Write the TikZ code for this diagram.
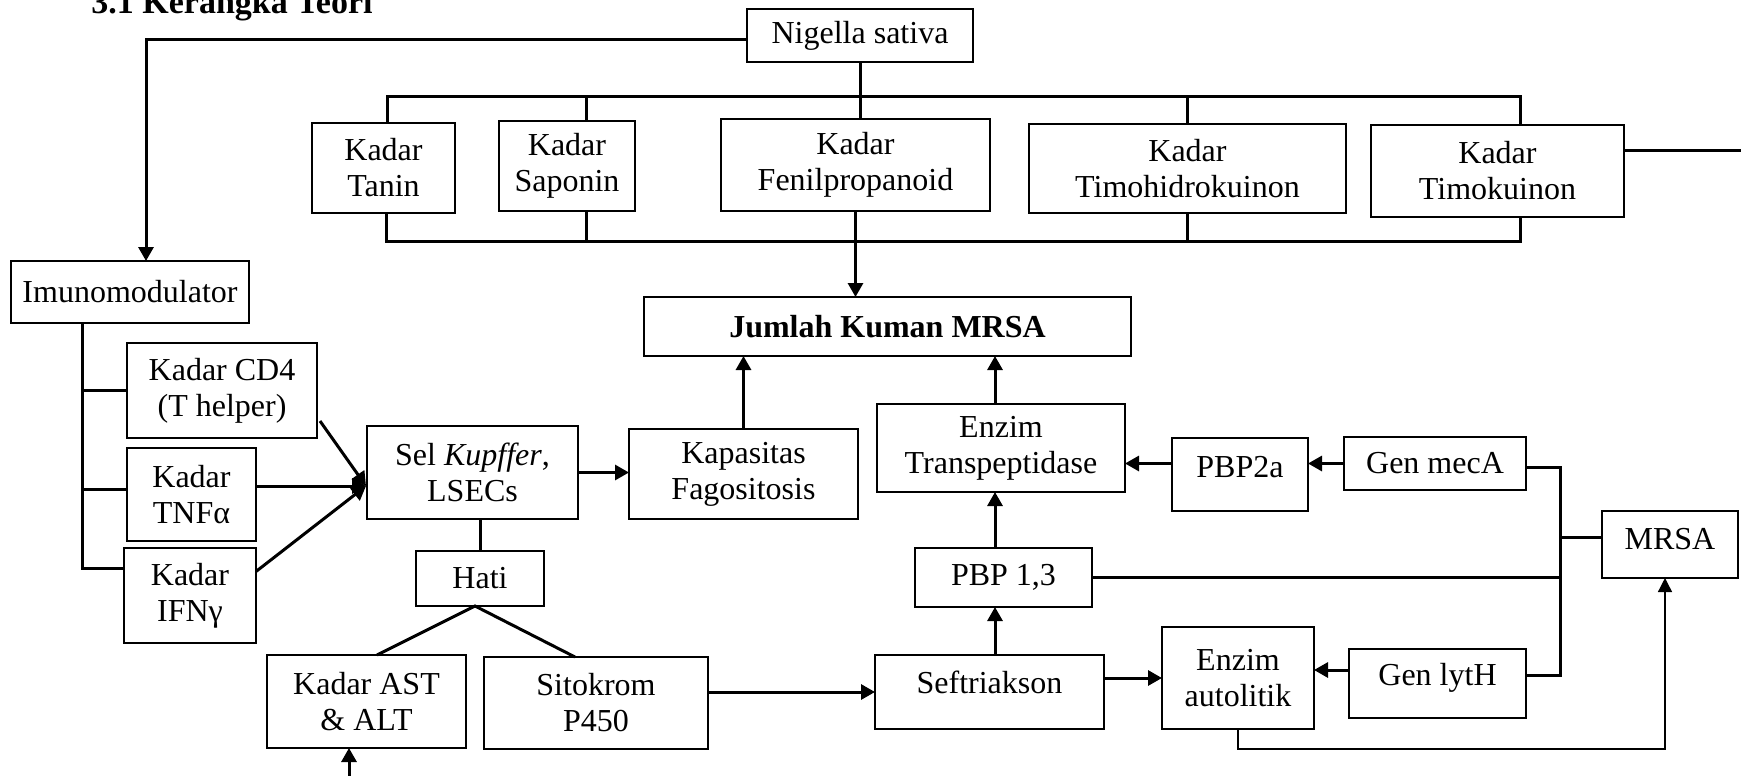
\documentclass[tikz,border=0pt]{standalone}
\usepackage{fontspec}
\setmainfont{Liberation Serif}
\usetikzlibrary{arrows.meta}
\tikzset{
  box/.style={draw, line width=0.6pt, inner sep=0pt, outer sep=0pt, align=center, font=\fontsize{16}{18}\selectfont},
  conn/.style={line width=1.5pt},
  arr/.style={conn, -{Triangle[length=7pt,width=7.5pt]}},
  thinarr/.style={line width=0.65pt, -{Triangle[length=7pt,width=7pt]}},
}
\newcommand\bx[6]{\node[box, minimum width={(#4-#2)*0.5pt}, minimum height={(#5-#3)*0.5pt}] (#1) at ({(#2+#4)/2},{(#3+#5)/2}) {#6};}
\newcommand\up[2]{\raisebox{#1}[\height][\depth]{#2}}
\begin{document}
\begin{tikzpicture}[x=0.5pt,y=-0.5pt]
\useasboundingbox (0,0) rectangle (1741,776);
\node[anchor=base west, inner sep=0pt, font=\fontsize{17}{20}\selectfont\bfseries] (title) at (91,13) {3.1 Kerangka Teori};
% boxes
\bx{nig}{747}{9}{973}{62}{Nigella sativa}
\bx{tan}{312}{123}{455}{213}{Kadar\\Tanin}
\bx{sap}{499}{121}{635}{211}{Kadar\\Saponin}
\bx{fen}{721}{119}{990}{211}{Kadar\\Fenilpropanoid}
\bx{thd}{1029}{124}{1346}{213}{Kadar\\Timohidrokuinon}
\bx{tmk}{1371}{125}{1624}{217}{Kadar\\Timokuinon}
\bx{imu}{11}{261}{249}{323}{Imunomodulator}
\bx{jum}{644}{297}{1131}{356}{\textbf{Jumlah Kuman MRSA}}
\bx{cd4}{127}{343}{317}{438}{Kadar CD4\\(T helper)}
\bx{tnf}{127}{448}{256}{541}{Kadar\\TNFα}
\bx{ifn}{124}{548}{256}{643}{Kadar\\IFNγ}
\bx{kup}{367}{426}{578}{519}{Sel \textit{Kupffer},\\LSECs}
\bx{kap}{629}{429}{858}{519}{Kapasitas\\Fagositosis}
\bx{tp}{877}{404}{1125}{492}{Enzim\\Transpeptidase}
\bx{p2a}{1172}{438}{1308}{511}{\up{3.5pt}{PBP2a}}
\bx{mec}{1344}{437}{1526}{490}{Gen mecA}
\bx{mrsa}{1602}{511}{1738}{578}{\up{2.5pt}{MRSA}}
\bx{hat}{416}{551}{544}{606}{Hati}
\bx{pbp}{915}{548}{1092}{607}{PBP 1,3}
\bx{ast}{267}{655}{466}{748}{Kadar AST\\\& ALT}
\bx{sit}{484}{657}{708}{749}{Sitokrom\\P450}
\bx{sef}{875}{655}{1104}{729}{\up{5pt}{Seftriakson}}
\bx{aut}{1162}{627}{1314}{729}{Enzim\\autolitik}
\bx{lyt}{1349}{649}{1526}{718}{\up{3pt}{Gen lytH}}
% top buses
\coordinate (tbL) at (387,96); \coordinate (tbR) at (1520,96);
\coordinate (bbL) at (386,241); \coordinate (bbR) at (1520,241);
\coordinate (xs) at (586,0);
\draw[conn] (tan.north -| tbL) -- (tbL) -- (tbR) -- (tmk.north -| tbR);
\draw[conn] (nig.south) -- (nig.south |- fen.north);
\draw[conn] (sap.north -| xs) -- (xs |- tbL);
\draw[conn] (thd.north) -- (thd.north |- tbL);
\draw[conn] (tan.south -| bbL) -- (bbL) -- (bbR) -- (tmk.south -| bbR);
\draw[conn] (sap.south -| xs) -- (xs |- bbL);
\draw[conn] (thd.south) -- (thd.south |- bbL);
\draw[arr] (fen.south) -- (fen.south |- jum.north);
% Nigella to Imunomodulator
\coordinate (tl) at (146,39);
\draw[arr] (nig.west |- tl) -- (tl) -- (tl |- imu.north);
% right edge line
\coordinate (re) at (1741,150);
\draw[conn] (tmk.east |- re) -- (re);
% imunomodulator tree
\coordinate (iv) at (82,568);
\coordinate (tb2) at (82,489);
\draw[conn] (imu.south -| iv) -- (iv) -- (ifn.west |- iv);
\draw[conn] (iv |- cd4.west) -- (cd4.west);
\draw[conn] (tb2) -- (tnf.west |- tb2);
% into Kupffer
\coordinate (kin) at (366,486);
\draw[arr] ([shift={(3,-17)}]cd4.south east) -- (kin);
\draw[arr] (tnf.east |- kin) -- (kin);
\draw[arr] ([shift={(0,-24)}]ifn.east) -- (kin);
\draw[arr] (kup.east) -- (kup.east -| kap.west);
\draw[arr] (kap.north) -- (kap.north |- jum.south);
% Hati
\draw[conn] (hat.north) -- (hat.north |- kup.south);
\draw[conn] ([xshift=5.25pt]ast.north) -- ([xshift=-2.5pt]hat.south) -- ([xshift=-10.5pt]sit.north);
\coordinate (bot) at (349,776);
\draw[arr] (bot) -- (bot |- ast.south);
% right chain
\coordinate (vx2) at (995,0);
\draw[arr] (sit.east |- sef.west) -- (sef.west);
\draw[arr] (sef.north -| vx2) -- (vx2 |- pbp.south);
\draw[arr] (pbp.north -| vx2) -- (vx2 |- tp.south);
\draw[arr] (tp.north -| vx2) -- (vx2 |- jum.south);
\draw[arr] (sef.east |- aut.west) -- (aut.west);
\draw[arr] (mec.west) -- (mec.west -| p2a.east);
\draw[arr] (p2a.west |- mec.west) -- (tp.east |- mec.west);
\coordinate (vr) at (1560,467);
\coordinate (lyc) at (1560,675);
\coordinate (mb) at (1560,537);
\draw[conn] (mec.east |- vr) -- (vr) -- (lyc) -- (lyt.east |- lyc);
\draw[conn] (mb) -- (mrsa.west |- mb);
\draw[conn] (pbp.east) -- (pbp.east -| vr);
\coordinate (la) at (1349,670);
\draw[arr] (lyt.west |- la) -- (aut.east |- la);
\draw[thinarr] (aut.south) -- ++(0,20) -| ([xshift=-2.5pt]mrsa.south);
\end{tikzpicture}
\end{document}
